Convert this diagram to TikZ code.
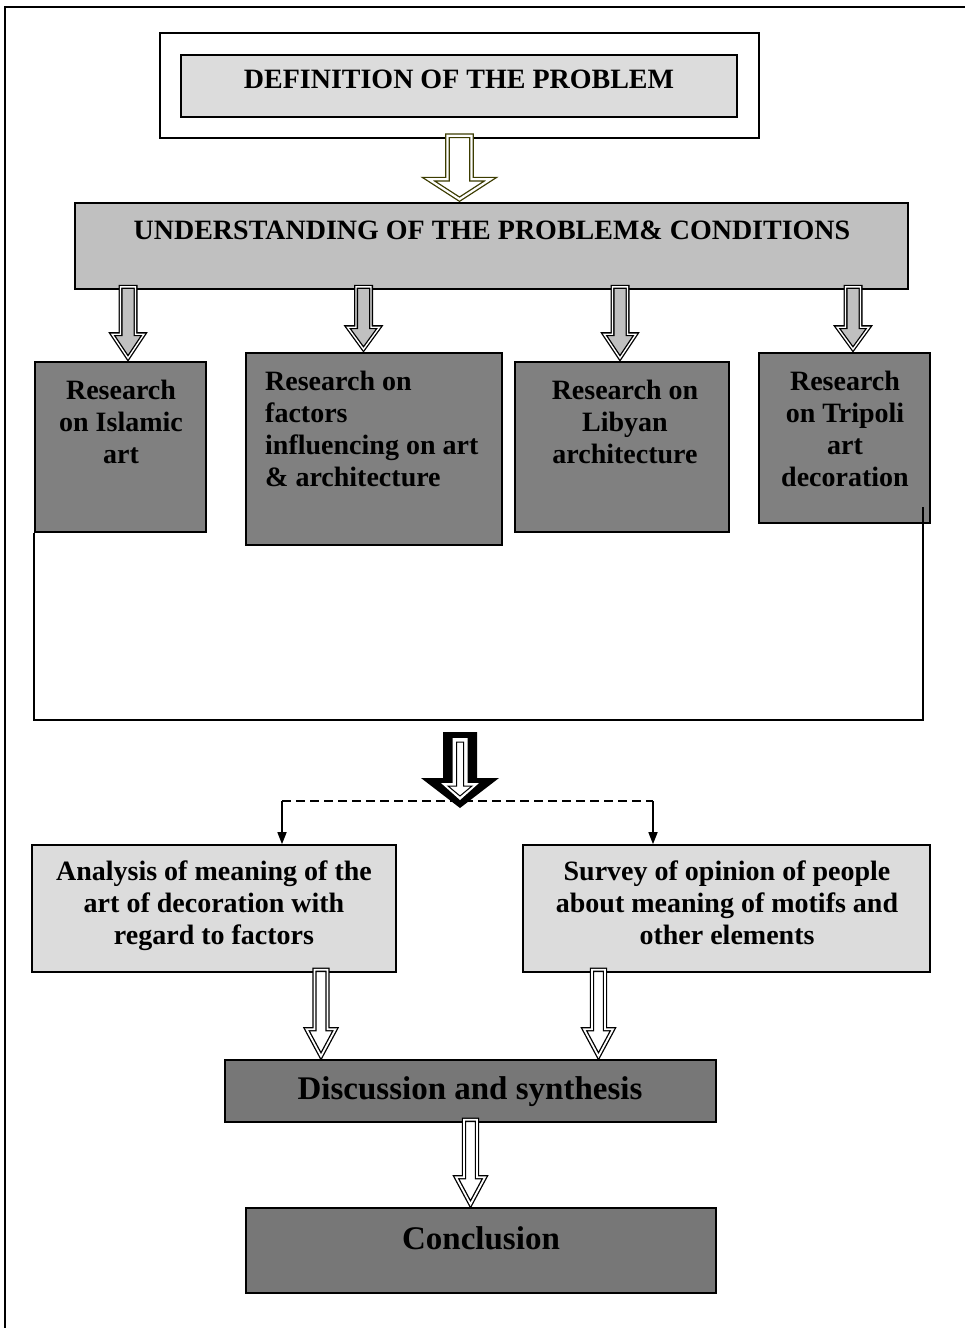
\documentclass[tikz,border=0pt]{standalone}
\usepackage{fontspec}
\setmainfont{Liberation Serif}
\usetikzlibrary{calc,arrows.meta}
\definecolor{lgray}{HTML}{DCDCDC}
\definecolor{mgray}{HTML}{C0C0C0}
\definecolor{dgray}{HTML}{808080}
\definecolor{dgrayb}{HTML}{777777}
\definecolor{olivec}{HTML}{3C3C00}
% #1 style, #2 x (px), #3 from anchor, #4 to anchor, #5 shaft half, #6 head half, #7 head length
\newcommand\fatarrow[7][]{%
  \draw[#1] let \p1=(#3), \p2=(#4) in
   (#2pt-#5pt,\y1+3pt) -- (#2pt+#5pt,\y1+3pt) -- (#2pt+#5pt,\y2+#7pt+3pt)
   -- (#2pt+#6pt,\y2+#7pt+3pt) -- (#2pt,\y2+3pt) -- (#2pt-#6pt,\y2+#7pt+3pt)
   -- (#2pt-#5pt,\y2+#7pt+3pt) -- cycle;}
\begin{document}
\begin{tikzpicture}[x=1pt,y=-1pt,
  box/.style={draw=black,line width=1.6pt,inner sep=0pt},
  txt/.style={inner sep=0pt,align=center,font=\fontsize{28}{32}\selectfont\bfseries},
  bigtxt/.style={inner sep=0pt,align=center,font=\fontsize{33}{38}\selectfont\bfseries},
  olivearrow/.style={draw=olivec,line width=1.3pt,double=white,double distance=2.2pt,fill=white},
  grayarrow/.style={draw=black,line width=1.3pt,double=white,double distance=1.4pt,fill=mgray},
  whitearrow/.style={draw=black,line width=1.3pt,double=white,double distance=1.8pt,fill=white},
  thin/.style={line width=1.5pt}]
\useasboundingbox (0,0) rectangle (965,1328);
% outer frame
\coordinate (fbl) at (5,1330);
\coordinate (ftr) at (967,7);
\draw[line width=2.5pt] (fbl) |- (ftr);
% definition
\node[box,fill=white,minimum width=599pt,minimum height=105pt] (defo) at (459.5,85.5) {};
\node[box,fill=lgray,minimum width=556pt,minimum height=62pt] (defi) at (459,86) {};
\node[txt,anchor=north] (defit) at (459,70) {DEFINITION OF THE PROBLEM};
% understanding
\node[box,fill=mgray,minimum width=833pt,minimum height=86pt] (und) at (491.5,246) {};
\node[txt,anchor=north] (undt) at (492,221) {UNDERSTANDING OF THE PROBLEM\& CONDITIONS};
\fatarrow[olivearrow]{459.5}{defo.south}{und.north}{12}{31}{20}
% research boxes
\node[box,fill=dgray,minimum width=171pt,minimum height=170pt] (b1) at (120.5,447) {};
\node[box,fill=dgray,minimum width=256pt,minimum height=192pt] (b2) at (374,449) {};
\node[box,fill=dgray,minimum width=214pt,minimum height=170pt] (b3) at (622,447) {};
\node[box,fill=dgray,minimum width=171pt,minimum height=170pt] (b4) at (844.5,438) {};
\node[txt,anchor=north] (b1t) at (121,380) {Research\\on Islamic\\art};
\node[txt,anchor=north west,align=left] (b2t) at (265,371) {Research on\\factors\\influencing on art\\\& architecture};
\node[txt,anchor=north] (b3t) at (625,380) {Research on\\Libyan\\architecture};
\node[txt,anchor=north] (b4t) at (845,371) {Research\\on Tripoli\\art\\decoration};
\fatarrow[grayarrow]{128}{und.south}{b1.north}{7.5}{16}{24}
\fatarrow[grayarrow]{363.5}{und.south}{b2.north}{7.5}{16}{22}
\fatarrow[grayarrow]{620}{und.south}{b3.north}{7.5}{16}{24}
\fatarrow[grayarrow]{853}{und.south}{b4.north}{7.5}{16}{22}
% bracket
\coordinate (bkr) at (923,720);
\coordinate (bkt) at (923,507);
\draw[line width=2.2pt] (b1.south west) |- (bkr) -- (bkt);
% big black arrow
\fill[black] (443,732) -- (477,732) -- (477,778) -- (499,778) -- (460,808) -- (421,778) -- (443,778) -- cycle;
\fill[white] (452.5,738) -- (467.5,738) -- (467.5,783) -- (479,783) -- (460,800) -- (441,783) -- (452.5,783) -- cycle;
\draw[black,line width=1pt,fill=white] (456.5,742) -- (463.5,742) -- (463.5,786) -- (472,786) -- (460,796) -- (448,786) -- (456.5,786) -- cycle;
% lower boxes
\node[box,fill=lgray,minimum width=364pt,minimum height=127pt] (ana) at (214,908.5) {};
\node[box,fill=lgray,minimum width=407pt,minimum height=127pt] (sur) at (726.5,908.5) {};
\node[txt,anchor=north] (anat) at (214,861) {Analysis of meaning of the\\art of decoration with\\regard to factors};
\node[txt,anchor=north] (surt) at (727,861) {Survey of opinion of people\\about meaning of motifs and\\other elements};
% dashed split
\coordinate (dl) at (282,801);
\coordinate (dr) at (653,801);
\draw[thin,dash pattern=on 9pt off 5pt] (dl) -- (dr);
\draw[thin,-{Triangle[length=12pt,width=9pt]}] (dl) -- (dl |- ana.north);
\draw[thin,-{Triangle[length=12pt,width=9pt]}] (dr) -- (dr |- sur.north);
% discussion and conclusion
\node[box,fill=dgrayb,minimum width=491pt,minimum height=62pt] (dis) at (470.5,1091) {};
\node[bigtxt,anchor=north] (dist) at (470,1076) {Discussion and synthesis};
\node[box,fill=dgrayb,minimum width=470pt,minimum height=85pt] (con) at (481,1250.5) {};
\node[bigtxt,anchor=north] (cont) at (481,1226) {Conclusion};
\fatarrow[whitearrow]{321}{ana.south}{dis.north}{6.5}{14.5}{27}
\fatarrow[whitearrow]{598.5}{sur.south}{dis.north}{6.5}{14.5}{27}
\fatarrow[whitearrow]{470.5}{dis.south}{con.north}{6.5}{14.5}{27}
\end{tikzpicture}
\end{document}
